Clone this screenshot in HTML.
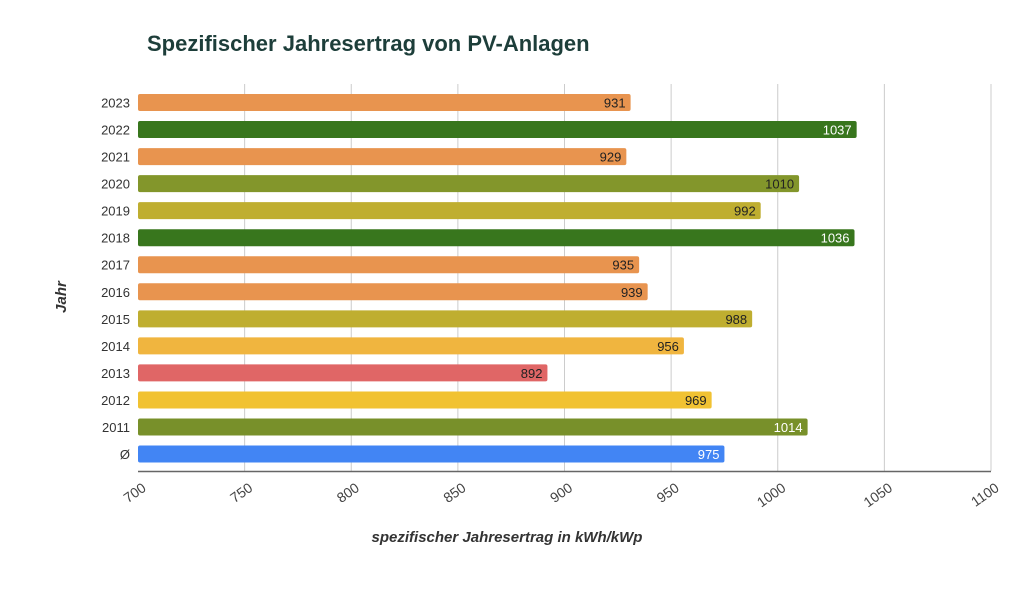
<!DOCTYPE html>
<html><head><meta charset="utf-8"><style>
body{margin:0;background:#fff;font-family:"Liberation Sans",sans-serif}
</style></head><body>
<svg id="c" width="1024" height="591" xmlns="http://www.w3.org/2000/svg">
<text x="147" y="51" font-size="22" font-weight="bold" fill="#1d3e3a" font-family="Liberation Sans">Spezifischer Jahresertrag von PV-Anlagen</text>
<text transform="translate(66,297) rotate(-90)" font-size="15" font-style="italic" font-weight="bold" fill="#333" text-anchor="middle">Jahr</text>
<text x="507" y="542" font-size="15" font-style="italic" font-weight="bold" fill="#333" text-anchor="middle">spezifischer Jahresertrag in kWh/kWp</text>
<g id="grid"></g><g id="bars"></g><g id="ticks"></g>
</svg>
<script>
const categories=["2023","2022","2021","2020","2019","2018","2017","2016","2015","2014","2013","2012","2011","Ø"];
const values=[931,1037,929,1010,992,1036,935,939,988,956,892,969,1014,975];
const colors=["#e8944f","#38761d","#e8944f","#83962b","#bfae30","#38761d","#e8944f","#e8944f","#bfae30","#f0b53f","#e06666","#f1c232","#78902a","#4285f4"];
const labelColors=["#222","#fff","#222","#222","#222","#fff","#222","#222","#222","#222","#222","#222","#fff","#fff"];
const xTicks=[700,750,800,850,900,950,1000,1050,1100];
const NS="http://www.w3.org/2000/svg";
const x0=138,x1=991,xmin=700,xmax=1100;
const xs=v=>x0+(v-xmin)/(xmax-xmin)*(x1-x0);
const ys=i=>102.5+i*27.04;
function mk(t,a,p){const e=document.createElementNS(NS,t);for(const k in a)e.setAttribute(k,a[k]);p.appendChild(e);return e;}
const grid=document.getElementById('grid'),bars=document.getElementById('bars'),ticks=document.getElementById('ticks');
xTicks.forEach(t=>{
 if(t>xmin){const l=mk('line',{x1:xs(t),x2:xs(t),y1:84,y2:471,stroke:'#ccc','stroke-width':1},grid);
 
 }
 const tx=mk('text',{transform:`translate(${xs(t)+9},${490}) rotate(-35)`,'text-anchor':'end','font-size':14,fill:'#444'},ticks);
 tx.textContent=t;
 
 
});
const ax=mk('line',{x1:x0,x2:x1,y1:471.5,y2:471.5,stroke:'#666','stroke-width':1.5},ticks);


categories.forEach((c,i)=>{
 const y=ys(i);
 const r=mk('rect',{x:x0,y:y-8.5,width:xs(values[i])-x0,height:17,rx:2,fill:colors[i]},bars);
 
 
 const lb=mk('text',{x:x0-8,y:y+5,'text-anchor':'end','font-size':13,fill:'#333'},bars);
 lb.textContent=c;
 
 
 const vl=mk('text',{x:xs(values[i])-5,y:y+5,'text-anchor':'end','font-size':13,fill:labelColors[i]},bars);
 vl.textContent=values[i];
 
 
});
</script>
</body></html>
